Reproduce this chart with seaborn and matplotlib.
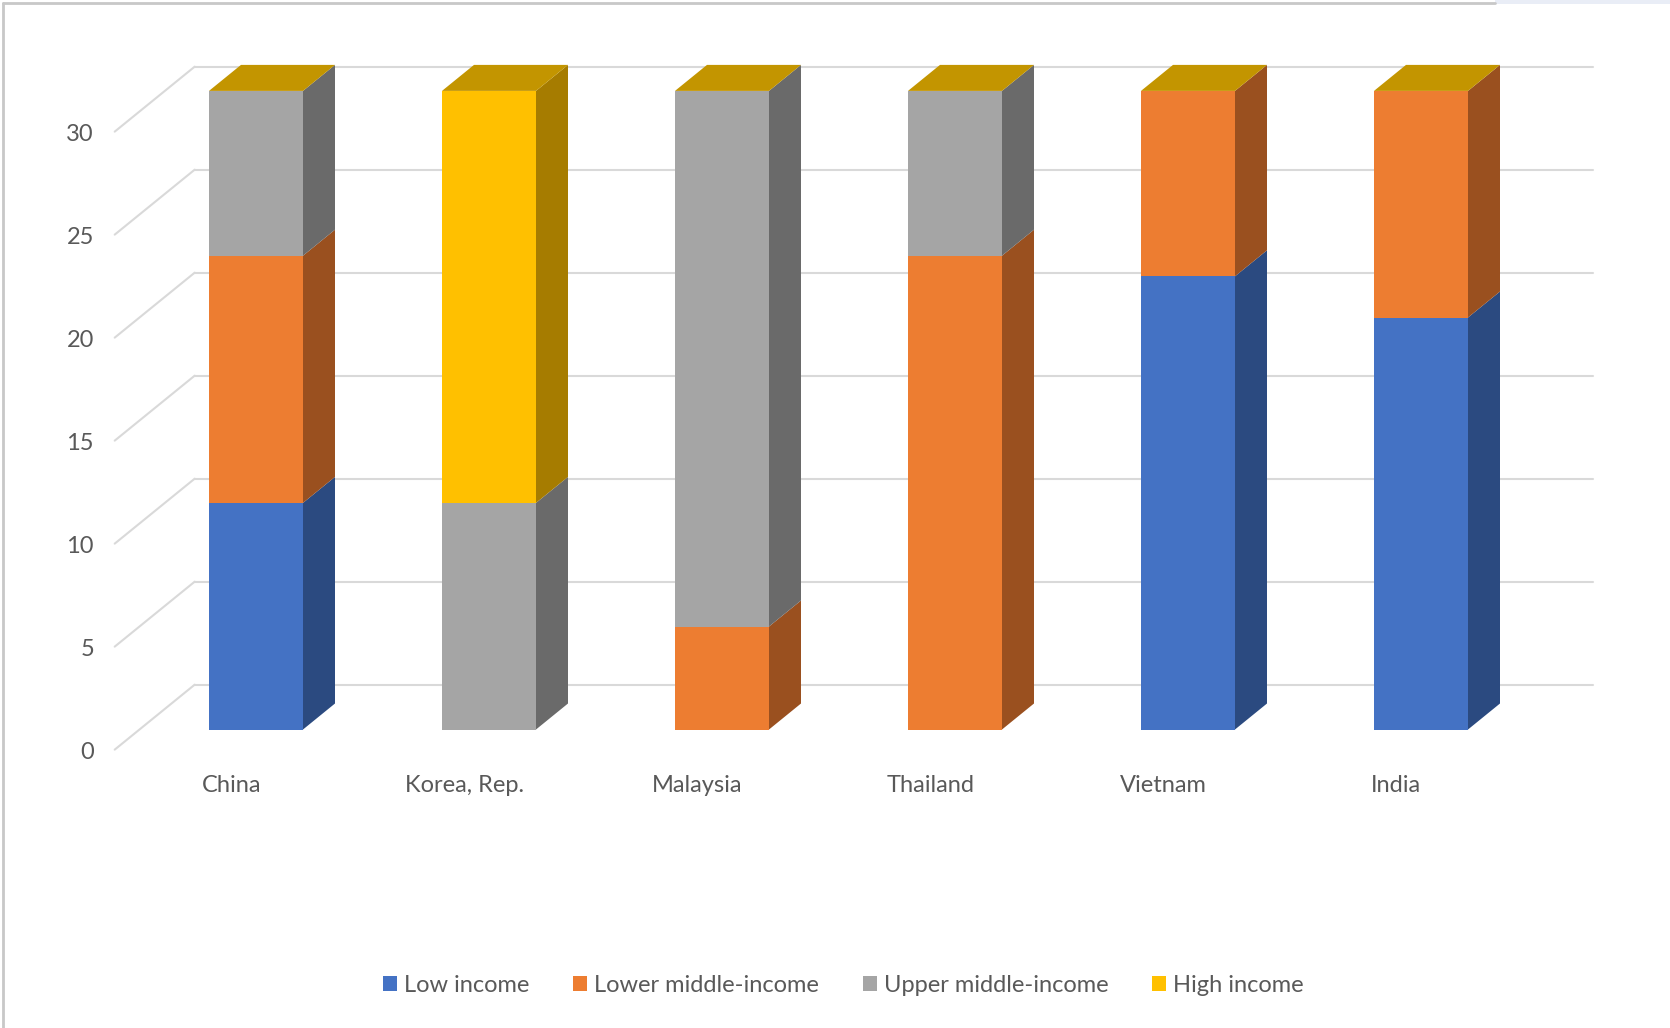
import numpy as np
import pandas as pd
import matplotlib
matplotlib.use("Agg")
import matplotlib.pyplot as plt
from matplotlib.patches import Polygon, Patch, Rectangle
from matplotlib.lines import Line2D
import seaborn as sns

# ---------------- data ----------------
countries = ["China", "Korea, Rep.", "Malaysia", "Thailand", "Vietnam", "India"]
series_names = ["Low income", "Lower middle-income", "Upper middle-income", "High income"]
low_income = [11, 0, 0, 0, 22, 20]
lower_middle = [12, 0, 5, 23, 9, 11]
upper_middle = [8, 11, 26, 8, 0, 0]
high_income = [0, 20, 0, 0, 0, 0]
yticks = [0, 5, 10, 15, 20, 25, 30]

front_colors = ["#4472C4", "#ED7D31", "#A5A5A5", "#FFC000"]
side_colors = ["#2B4A80", "#9A501F", "#6A6A6A", "#A67C00"]
top_color = "#C39500"
grid_color = "#D9D9D9"
text_color = "#595959"

# ---------------- layout (pixels of the 1670x1028 canvas) ----------------
W, H = 1670, 1028
PX_CAT = 233.0      # pixels per category
PX_VAL = 20.6       # pixels per value unit
X0_PX, Y0_PX = 256.0, 729.5  # China centre / base of bar front face (from top)
WALL_DX, WALL_DY = 80.0 / PX_CAT, 65.0 / PX_VAL   # full depth vector in data units
BAR_BACK, WALL_BACK, WALL_FRONT = 0.40, 0.69, -0.31
BAR_W = 94.0 / PX_CAT
FS = 17

sns.set_theme(style="white")
plt.rcParams["font.family"] = ["Lato", "DejaVu Sans"]

fig = plt.figure(figsize=(W / 100, H / 100), dpi=100)
ax = fig.add_axes([0, 0, 1, 1])

df = pd.DataFrame({"country": countries,
                   "Low income": low_income,
                   "Lower middle-income": lower_middle,
                   "Upper middle-income": upper_middle,
                   "High income": high_income})
vals = df[series_names].to_numpy(dtype=float)
cum = np.cumsum(vals, axis=1)

# front faces: cumulative heights drawn from the top series down
for k in range(len(series_names) - 1, -1, -1):
    sub = pd.DataFrame({"country": countries, "cum": cum[:, k]})
    sns.barplot(data=sub, x="country", y="cum", color=front_colors[k],
                saturation=1, width=BAR_W, errorbar=None, ax=ax,
                zorder=3, linewidth=0)

ax.set_xlim(-X0_PX / PX_CAT, (W - X0_PX) / PX_CAT)
ax.set_ylim(-(H - Y0_PX) / PX_VAL, Y0_PX / PX_VAL)
ax.axis("off")

ddx, ddy = BAR_BACK * WALL_DX, BAR_BACK * WALL_DY

# side and top faces computed from the data
for i in range(len(countries)):
    xr = i + BAR_W / 2
    xl = i - BAR_W / 2
    bottom = 0.0
    for k in range(len(series_names)):
        v = vals[i, k]
        if v > 0:
            top = bottom + v
            ax.add_patch(Polygon([(xr, bottom), (xr + ddx, bottom + ddy),
                                  (xr + ddx, top + ddy), (xr, top)],
                                 closed=True, facecolor=side_colors[k],
                                 edgecolor="none", zorder=3))
            bottom = top
    T = cum[i, -1]
    ax.add_patch(Polygon([(xl, T), (xl + ddx, T + ddy), (xr + ddx, T + ddy), (xr, T)],
                         closed=True, facecolor=top_color, edgecolor="none", zorder=3))

# walls / gridlines
bx, by = WALL_BACK * WALL_DX, WALL_BACK * WALL_DY
fx, fy = WALL_FRONT * WALL_DX, WALL_FRONT * WALL_DY
n = len(countries)
for v in yticks:
    ax.plot([-0.5 + bx, n - 0.5 + bx], [v + by, v + by], color=grid_color, lw=1.5, zorder=1)
    ax.plot([-0.5 + fx, -0.5 + bx], [v + fy, v + by], color=grid_color, lw=1.5, zorder=1)
    ax.text((94 - X0_PX) / PX_CAT, v + fy - 0.15, str(v), ha="right", va="center",
            fontsize=FS, color=text_color)

for i, c in enumerate(countries):
    ax.text(i + fx, (Y0_PX - 785) / PX_VAL, c, ha="center", va="center",
            fontsize=FS, color=text_color)

handles = [Patch(facecolor=front_colors[k], edgecolor="none", label=series_names[k])
           for k in range(len(series_names))]
fig.legend(handles=handles, loc="center", bbox_to_anchor=(0.505, 1 - 985 / H), ncol=4,
           frameon=False, fontsize=FS, handlelength=0.6, handleheight=0.6,
           handletextpad=0.3, columnspacing=1.85, labelcolor=text_color)

# chart border
fig.add_artist(Line2D([3 / W, 3 / W], [0, 1 - 3 / H], color="#C8C8C8", lw=2))
fig.add_artist(Line2D([3 / W, 1495 / W], [1 - 3 / H, 1 - 3 / H], color="#C8C8C8", lw=2))
fig.add_artist(Rectangle((1495 / W, 1 - 4 / H), 1 - 1495 / W, 4 / H,
                         transform=fig.transFigure, facecolor="#E9EDF6", edgecolor="none"))

fig.savefig("out.png", dpi=100)
